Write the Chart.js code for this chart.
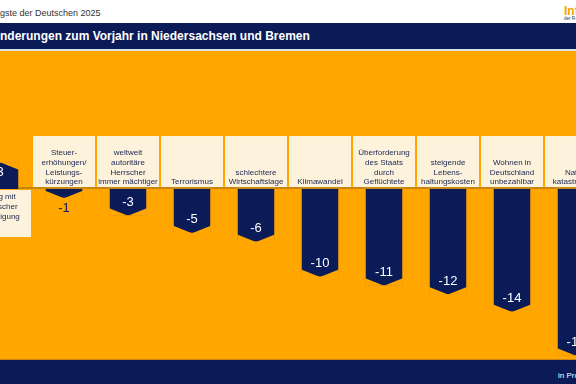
<!DOCTYPE html>
<html lang="de">
<head>
<meta charset="utf-8">
<script src="https://cdn.jsdelivr.net/npm/chart.js@4"></script>
<style>
  html, body { margin: 0; padding: 0; }
  body { width: 576px; height: 384px; overflow: hidden; position: relative; background: #fff; font-family: "Liberation Sans", Arial, sans-serif; }
  #top { position: absolute; left: 0; top: 8px; font-size: 9px; color: #333; white-space: nowrap; }
  #logo { position: absolute; left: 564px; top: 4px; color: #f5a300; font-weight: bold; font-size: 12px; white-space: nowrap; }
  #logo small { display: block; font-size: 4.5px; color: #333; font-weight: normal; margin-top: -2px; }
  #band { position: absolute; left: 0; top: 23px; width: 576px; height: 26px; background: #0b1b57; border-bottom: 2px solid #dfe3ea; }
  #band span { position: absolute; left: 0; top: 6px; color: #fff; font-weight: bold; font-size: 12px; white-space: nowrap; }
  #orange { position: absolute; left: 0; top: 51px; width: 576px; height: 308px; background: #ffa600; border-bottom: 1px solid #c8860f; }
  #foot { position: absolute; left: 0; top: 360px; width: 576px; height: 24px; background: #0b1b57; }
  #foot span { position: absolute; left: 558px; top: 11px; color: #fff; font-size: 8px; white-space: nowrap; }
  #wrap { position: absolute; left: -32px; top: 52px; width: 640px; height: 308px; }
</style>
</head>
<body>
<div id="top">gste der Deutschen 2025</div>
<div id="logo">Infocenter<small>der R+V Versicherung</small></div>
<div id="band"><span>nderungen zum Vorjahr in Niedersachsen und Bremen</span></div>
<div id="orange"></div>
<div id="foot"><span>in Prozentpunkten</span></div>
<div id="wrap"><canvas id="chart"></canvas></div>

<script>
// categories (multi-line labels)
const categories = [
  ["Krieg mit", "deutscher", "Beteiligung"],
  ["Steuer-", "erhöhungen/", "Leistungs-", "kürzungen"],
  ["weltweit", "autoritäre", "Herrscher", "immer mächtiger"],
  ["Terrorismus"],
  ["schlechtere", "Wirtschaftslage"],
  ["Klimawandel"],
  ["Überforderung", "des Staats", "durch", "Geflüchtete"],
  ["steigende", "Lebens-", "haltungskosten"],
  ["Wohnen in", "Deutschland", "unbezahlbar"],
  ["Natur-", "katastrophen"]
];
// change to previous year, percentage points
const changes = [3, -1, -3, -5, -6, -10, -11, -12, -14, -19];

const NAVY = '#0b1b57';
const ORANGE = '#ffa600';
const CREAM = '#fdf2dc';

// category boxes and baseline, under the bars
const boxesPlugin = {
  id: 'boxes',
  beforeDatasetsDraw(chart) {
    const ctx = chart.ctx;
    const x = chart.scales.x, y = chart.scales.y;
    const zero = y.getPixelForValue(0);
    ctx.save();
    ctx.fillStyle = '#c8860f';
    ctx.fillRect(0, zero - 2, chart.width, 2);
    ctx.font = '8px "Liberation Sans", Arial, sans-serif';
    ctx.textAlign = 'center';
    ctx.textBaseline = 'middle';
    categories.forEach((lines, i) => {
      const cx = x.getPixelForValue(i);
      const pos = changes[i] > 0;
      const top = pos ? zero + 1 : zero - 53;
      const h = pos ? 47 : 51;
      ctx.fillStyle = CREAM;
      ctx.fillRect(cx - 31, top, 62, h);
      ctx.fillStyle = '#1b2550';
      lines.forEach((t, j) => {
        const ty = pos ? zero + 8 + j * 10 : zero - 7 - (lines.length - 1 - j) * 9.6;
        ctx.fillText(t, cx, ty);
      });
    });
    ctx.restore();
  }
};

// pointed bar ends and value labels
const tipsPlugin = {
  id: 'tips',
  afterDatasetsDraw(chart) {
    const ctx = chart.ctx;
    const meta = chart.getDatasetMeta(0);
    ctx.save();
    ctx.font = '13px "Liberation Sans", Arial, sans-serif';
    ctx.textAlign = 'center';
    ctx.textBaseline = 'middle';
    meta.data.forEach((bar, i) => {
      const p = bar.getProps(['x', 'y', 'base', 'width'], true);
      const hw = p.width / 2;
      const s = changes[i] < 0 ? -1 : 1; // direction back toward base
      const d = 7;
      ctx.fillStyle = ORANGE;
      ctx.beginPath();
      ctx.moveTo(p.x - hw - 0.5, p.y + s * d);
      ctx.lineTo(p.x - hw - 0.5, p.y - s * 0.5);
      ctx.lineTo(p.x, p.y - s * 0.5);
      ctx.closePath();
      ctx.fill();
      ctx.beginPath();
      ctx.moveTo(p.x + hw + 0.5, p.y + s * d);
      ctx.lineTo(p.x + hw + 0.5, p.y - s * 0.5);
      ctx.lineTo(p.x, p.y - s * 0.5);
      ctx.closePath();
      ctx.fill();
      const v = changes[i];
      if (Math.abs(v) < 2) {
        ctx.fillStyle = NAVY;
        ctx.fillText(String(v), p.x, p.y + (v < 0 ? 11 : -11));
      } else {
        ctx.fillStyle = '#fff';
        ctx.fillText(String(v), p.x, p.y + (v < 0 ? -13 : 10));
      }
    });
    ctx.restore();
  }
};

new Chart(document.getElementById('chart'), {
  type: 'bar',
  data: {
    labels: categories,
    datasets: [{
      data: changes,
      backgroundColor: NAVY,
      borderWidth: 0,
      barPercentage: 0.57,
      categoryPercentage: 1
    }]
  },
  options: {
    responsive: true,
    maintainAspectRatio: false,
    animation: false,
    layout: { padding: 0 },
    plugins: { legend: { display: false }, tooltip: { enabled: false } },
    scales: {
      x: { display: false },
      y: { display: false, min: -19.54, max: 15.66 }
    }
  },
  plugins: [boxesPlugin, tipsPlugin]
});
</script>
</body>
</html>
